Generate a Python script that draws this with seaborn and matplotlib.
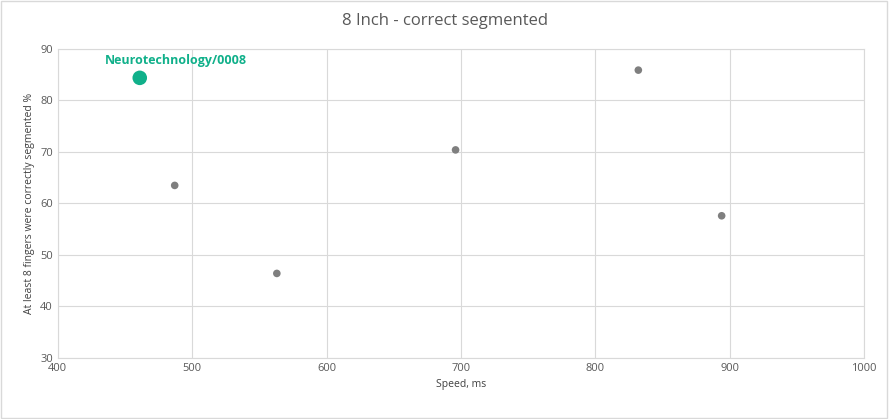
import matplotlib
matplotlib.use("Agg")
import matplotlib.pyplot as plt
import seaborn as sns
import pandas as pd

speed = [487, 563, 696, 832, 894]
segmented = [63.5, 46.4, 70.4, 85.9, 57.6]
hl_name = "Neurotechnology/0008"
hl_speed = [461]
hl_segmented = [84.4]

sns.set_style("white")
plt.rcParams["font.family"] = ["Open Sans", "DejaVu Sans"]

fig = plt.figure(figsize=(8.89, 4.19), dpi=100)
ax = fig.add_axes([0.065, 0.146, 0.907, 0.737])

others = pd.DataFrame({"speed": speed, "seg": segmented})
sns.scatterplot(data=others, x="speed", y="seg", ax=ax, color="#7f7f7f",
                s=30, edgecolor="none", zorder=3)
sns.scatterplot(x=hl_speed, y=hl_segmented, ax=ax, color="#10b08a",
                s=110, edgecolor="none", zorder=4)
ax.annotate(hl_name, (hl_speed[0], hl_segmented[0]), xytext=(26, 8),
            textcoords="offset points", ha="center", va="bottom",
            color="#10b08a", fontsize=9, fontweight="bold")

ax.set_xlim(400, 1000)
ax.set_ylim(30, 90)
ax.set_xticks(range(400, 1001, 100))
ax.set_yticks(range(30, 91, 10))
ax.grid(True, color="#d9d9d9", lw=0.8)
ax.set_axisbelow(True)
for s in ax.spines.values():
    s.set_color("#d9d9d9")
ax.tick_params(labelsize=8, colors="#595959", length=0)
ax.set_xlabel("Speed, ms", fontsize=7.5, color="#404040")
ax.set_ylabel("At least 8 fingers were correctly segmented %", fontsize=7.5, color="#404040")
fig.suptitle("8 Inch - correct segmented", y=0.97, fontsize=12, color="#595959")

fig.patches.append(plt.Rectangle((0.001, 0.002), 0.997, 0.996, transform=fig.transFigure,
                                 fill=False, edgecolor="#d9d9d9", lw=1))
fig.savefig("out.png", dpi=100)
